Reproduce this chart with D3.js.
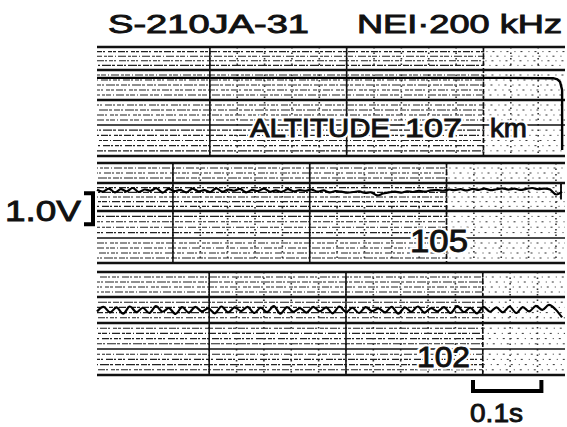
<!DOCTYPE html>
<html>
<head>
<meta charset="utf-8">
<script src="https://cdn.jsdelivr.net/npm/d3@7"></script>
<style>
  body { margin: 0; background: #fff; }
  text { font-family: "Liberation Sans", Arial, sans-serif; fill: #111; }
</style>
</head>
<body>
<svg id="chart" width="567" height="427"></svg>
<script>
// chart values
let titleParts = ['S-210JA-31', 'NEI·200 kHz'];
let altitudeLabels = ['ALTITUDE', '107', 'km', '105', '102'];
let voltLabel = '1.0V';
let timeLabel = '0.1s';
let scaleBarSeconds = 0.1;
let majorGridSeconds = 0.2;
let minorGridSeconds = 0.04;

// 107 km: saturated flat trace dropping off at the end (time s, volts)
let trace107Times = [0, 0.2, 0.4, 0.6, 0.667, 0.673, 0.677, 0.680, 0.680];
let trace107Volts = [2.52, 2.52, 2.52, 2.52, 2.51, 2.47, 2.39, 2.13, 0.19];

// 105 km: noisy trace, evenly sampled over the sweep (volts)
let trace105Volts = [2.36, 2.30, 2.40, 2.28, 2.38, 2.31, 2.42, 2.29, 2.37, 2.33, 2.41, 2.27, 2.39, 2.32, 2.36, 2.28,
  2.40, 2.31, 2.35, 2.29, 2.41, 2.30, 2.37, 2.33, 2.39, 2.28, 2.36, 2.32, 2.40, 2.30, 2.34, 2.29, 2.38, 2.31, 2.35,
  2.33, 2.37, 2.30, 2.34, 2.28, 2.32, 2.30, 2.27, 2.29, 2.31, 2.26, 2.28, 2.18, 2.24, 2.28, 2.30, 2.27, 2.31, 2.29,
  2.33, 2.30, 2.34, 2.36, 2.33, 2.37, 2.35, 2.38, 2.34, 2.39, 2.36, 2.40, 2.35, 2.38, 2.41, 2.37, 2.40, 2.36, 2.39,
  2.42, 2.38, 2.40, 2.37, 2.21, 2.30];

// 102 km: scalloped oscillation, evenly sampled over the sweep (volts)
let trace102Volts = [2.05, 2.20, 2.02, 2.18, 1.98, 2.21, 2.03, 2.17, 2.00, 2.22, 2.04, 2.16, 1.97, 2.19, 2.01, 2.20,
  2.05, 2.15, 1.99, 2.21, 2.02, 2.18, 2.06, 2.20, 2.00, 2.17, 2.03, 2.22, 1.98, 2.19, 2.04, 2.16, 2.01, 2.20, 2.05,
  2.18, 1.99, 2.21, 2.03, 2.17, 2.00, 2.19, 2.06, 2.15, 2.02, 2.20, 1.98, 2.18, 2.04, 2.21, 2.01, 2.16, 2.05, 2.19,
  2.00, 2.22, 2.03, 2.17, 1.99, 2.20, 2.04, 2.18, 2.02, 2.21, 2.00, 2.19, 2.05, 2.23, 2.10, 2.26, 2.12, 1.86];

// layout
let left = 97, right = 562;
let pxPerSecond = 684;
let pxPerVolt = 31;
let sweep = (right - left) / pxPerSecond;

let panels = [
  { top: 47, bottom: 156, rules: [47, 70, 100, 125, 156], bold: [47, 70, 100, 156], gridStart: 0.165 },
  { top: 163, bottom: 263, rules: [163, 183, 211, 238, 263], bold: [163, 183, 211, 263], gridStart: 0.111 },
  { top: 272, bottom: 375, rules: [272, 297, 323, 349, 375], bold: [272, 297, 323, 375], gridStart: 0.164 }
];

let svg = d3.select('#chart');
let x = d3.scaleLinear().domain([0, sweep]).range([left, right]);

let dotPatterns = ['6,1,2,2,9,1,3,2', '3,2,7,1,2,3,4,1', '8,2,3,1,5,2,1,2', '4,1,2,3,7,1,2,2'];

panels.forEach(function (p, pi) {
  p.y = d3.scaleLinear().domain([0, (p.bottom - p.top) / pxPerVolt]).range([p.bottom, p.top]);
  let g = svg.append('g').attr('class', 'panel');
  let lastMajor = p.gridStart + 2 * majorGridSeconds;

  // dotted rows of the chart paper, sparser beyond the last major division
  for (let r = 0; r < p.rules.length - 1; r++) {
    let a = p.rules[r], b = p.rules[r + 1];
    let n = Math.max(1, Math.round((b - a) / 5));
    for (let k = 1; k < n; k++) {
      let yy = a + (b - a) * k / n;
      g.append('line')
        .attr('x1', left).attr('x2', x(lastMajor))
        .attr('y1', yy).attr('y2', yy)
        .attr('stroke', '#222').attr('stroke-width', 1.1)
        .attr('stroke-dasharray', dotPatterns[(k + r + pi) % dotPatterns.length])
        .attr('stroke-dashoffset', (k * 7 + r * 3) % 11);
      g.append('line')
        .attr('x1', x(lastMajor)).attr('x2', right + 3)
        .attr('y1', yy).attr('y2', yy)
        .attr('stroke', '#333').attr('stroke-width', 1)
        .attr('stroke-dasharray', '2,6,1,5')
        .attr('stroke-dashoffset', (k * 5 + r) % 9);
    }
  }

  // minor time divisions
  let minorTicks = d3.range(p.gridStart % majorGridSeconds, sweep + 0.001, minorGridSeconds);
  g.selectAll('.minor').data(minorTicks).enter().append('line')
    .attr('x1', d => x(d)).attr('x2', d => x(d))
    .attr('y1', p.top).attr('y2', p.bottom)
    .attr('stroke', '#333').attr('stroke-width', 1.6)
    .attr('stroke-dasharray', '1.5,4');

  // solid rules
  g.selectAll('.rule').data(p.rules).enter().append('line')
    .attr('x1', left).attr('x2', right + 3)
    .attr('y1', d => d).attr('y2', d => d)
    .attr('stroke', '#111')
    .attr('stroke-width', d => p.bold.includes(d) ? 2.4 : 1.4);

  // major time divisions
  let majorTicks = d3.range(p.gridStart, sweep - 0.05, majorGridSeconds);
  g.selectAll('.major').data(majorTicks).enter().append('line')
    .attr('x1', d => x(d)).attr('x2', d => x(d))
    .attr('y1', p.top).attr('y2', p.bottom)
    .attr('stroke', '#111').attr('stroke-width', 1.6)
    .attr('stroke-dasharray', (d, i) => i === 2 ? '5,2' : null);
});

// traces
svg.append('path').datum(trace107Volts)
  .attr('d', d3.line().x((d, i) => x(trace107Times[i])).y(d => panels[0].y(d)).curve(d3.curveLinear))
  .attr('fill', 'none').attr('stroke', '#000').attr('stroke-width', 2.4);

function sampled(values, p) {
  let step = sweep / (values.length - 1);
  return d3.line()
    .x((d, i) => x(i * step))
    .y(d => p.y(d))
    .curve(d3.curveCardinal)(values);
}
svg.append('path')
  .attr('d', sampled(trace105Volts, panels[1]))
  .attr('fill', 'none').attr('stroke', '#000').attr('stroke-width', 2.2);
svg.append('path')
  .attr('d', sampled(trace102Volts, panels[2]))
  .attr('fill', 'none').attr('stroke', '#000').attr('stroke-width', 2.2);

// end tick on the 105 km trace
svg.append('line')
  .attr('x1', x(sweep) - 1).attr('x2', x(sweep) - 1)
  .attr('y1', panels[1].y(2.55)).attr('y2', panels[1].y(2.05))
  .attr('stroke', '#000').attr('stroke-width', 1.8);

// text helper: optional white halo so the paper breaks around the lettering
function label(txt, xx, yy, size, len, halo) {
  if (halo) {
    svg.append('text').text(txt)
      .attr('x', xx).attr('y', yy).attr('font-size', size)
      .attr('textLength', len).attr('lengthAdjust', 'spacingAndGlyphs')
      .attr('stroke', '#fff').attr('stroke-width', 5).style('fill', '#fff');
  }
  svg.append('text').text(txt)
    .attr('x', xx).attr('y', yy).attr('font-size', size)
    .attr('textLength', len).attr('lengthAdjust', 'spacingAndGlyphs')
    .attr('stroke', '#111').attr('stroke-width', 0.9);
}

// title
label(titleParts[0], 108, 33, 26, 201, false);
label(titleParts[1], 357, 33, 26, 205, false);

// altitude labels
label(altitudeLabels[0], 250, 137, 26, 140, true);
label(altitudeLabels[1], 405, 137, 26, 57, true);
label(altitudeLabels[2], 490, 137, 26, 37, true);
label(altitudeLabels[3], 410, 252, 32, 58, true);
label(altitudeLabels[4], 417, 367, 30, 53, true);

// voltage calibration bracket
let vy = panels[1].y;
let vTop = vy(2.25), vBot = vy(1.25);
svg.append('path')
  .attr('d', 'M84,' + vTop + 'H93V' + vBot + 'H84')
  .attr('fill', 'none').attr('stroke', '#000').attr('stroke-width', 4);
label(voltLabel, 5, 221, 30, 76, false);

// time scale bar
let t0 = (473 - left) / pxPerSecond;
let barX0 = x(t0), barX1 = x(t0 + scaleBarSeconds);
svg.append('path')
  .attr('d', 'M' + barX0 + ',380V391H' + barX1 + 'V380')
  .attr('fill', 'none').attr('stroke', '#000').attr('stroke-width', 4);
label(timeLabel, 470, 422, 26, 53, false);
</script>
</body>
</html>
